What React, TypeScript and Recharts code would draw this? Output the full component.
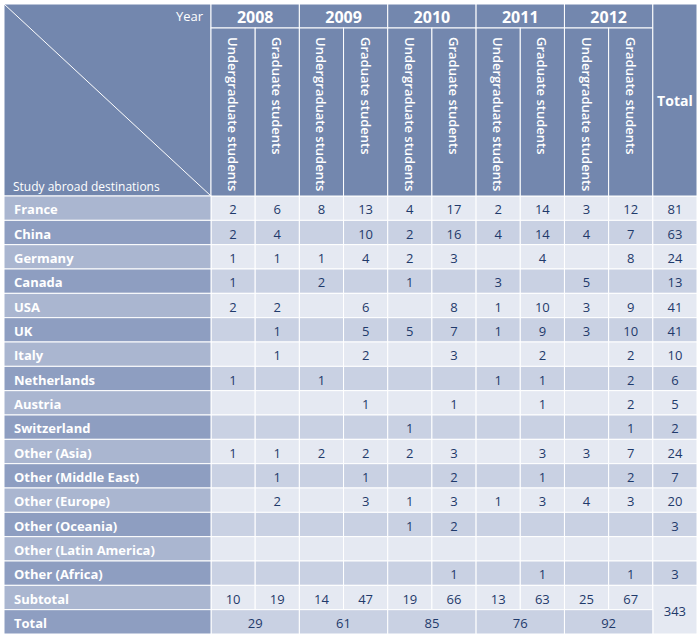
import React from "react"
import { ScatterChart, Scatter, XAxis, YAxis, Customized } from "recharts"

const destinations = [
  "France",
  "China",
  "Germany",
  "Canada",
  "USA",
  "UK",
  "Italy",
  "Netherlands",
  "Austria",
  "Switzerland",
  "Other (Asia)",
  "Other (Middle East)",
  "Other (Europe)",
  "Other (Oceania)",
  "Other (Latin America)",
  "Other (Africa)",
]
const summaryRows = ["Subtotal", "Total"]
const years = ["2008", "2009", "2010", "2011", "2012"]
const levels = ["Undergraduate students", "Graduate students"]

const n = null
// one value per destination, blank cells are null
const ug2008 = [2, 2, 1, 1, 2, n, n, 1, n, n, 1, n, n, n, n, n]
const grad2008 = [6, 4, 1, n, 2, 1, 1, n, n, n, 1, 1, 2, n, n, n]
const ug2009 = [8, n, 1, 2, n, n, n, 1, n, n, 2, n, n, n, n, n]
const grad2009 = [13, 10, 4, n, 6, 5, 2, n, 1, n, 2, 1, 3, n, n, n]
const ug2010 = [4, 2, 2, 1, n, 5, n, n, n, 1, 2, n, 1, 1, n, n]
const grad2010 = [17, 16, 3, n, 8, 7, 3, n, 1, n, 3, 2, 3, 2, n, 1]
const ug2011 = [2, 4, n, 3, 1, 1, n, 1, n, n, n, n, 1, n, n, n]
const grad2011 = [14, 14, 4, n, 10, 9, 2, 1, 1, n, 3, 1, 3, n, n, 1]
const ug2012 = [3, 4, n, 5, 3, 3, n, n, n, n, 3, n, 4, n, n, n]
const grad2012 = [12, 7, 8, n, 9, 10, 2, 2, 2, 1, 7, 2, 3, n, n, 1]
const destinationTotals = [81, 63, 24, 13, 41, 41, 10, 6, 5, 2, 24, 7, 20, 3, n, 3]

const subtotals = [10, 19, 14, 47, 19, 66, 13, 63, 25, 67]
const yearTotals = [29, 61, 85, 76, 92]
const grandTotal = 343

const yearColumns = [ug2008, grad2008, ug2009, grad2009, ug2010, grad2010, ug2011, grad2011, ug2012, grad2012]

// layout
const W = 700
const H = 640
const MARGIN = { top: 4, right: 3, bottom: 6, left: 4 }
const LABEL_W = 207
const HEAD_H = 192
const YEAR_H = 24
const NCOL = yearColumns.length + 1
const NROW = destinations.length + summaryRows.length
const CW = (W - MARGIN.left - MARGIN.right - LABEL_W) / NCOL
const RH = (H - MARGIN.top - MARGIN.bottom - HEAD_H) / NROW

const FONT = "'Open Sans', sans-serif"
const HEAD_BG = "#7387ae"
const LABEL_LIGHT = "#aab6d0"
const LABEL_DARK = "#8e9ec1"
const CELL_LIGHT = "#e5e9f2"
const CELL_DARK = "#c9d1e3"
const TEXT = "#1f3a6b"

type CellDatum = { x: number; y: number; value: number | null; cs: number; rs: number; row: number }

const cells: CellDatum[] = []
destinations.forEach((_, r) => {
  yearColumns.forEach((col, c) => {
    cells.push({ x: c + 0.5, y: r + 0.5, value: col[r], cs: 1, rs: 1, row: r })
  })
  cells.push({ x: NCOL - 0.5, y: r + 0.5, value: destinationTotals[r], cs: 1, rs: 1, row: r })
})
const subRow = destinations.length
subtotals.forEach((v, c) => {
  cells.push({ x: c + 0.5, y: subRow + 0.5, value: v, cs: 1, rs: 1, row: subRow })
})
cells.push({ x: NCOL - 0.5, y: subRow + 0.5, value: grandTotal, cs: 1, rs: 2, row: subRow })
yearTotals.forEach((v, i) => {
  cells.push({ x: i * 2 + 0.5, y: subRow + 1.5, value: v, cs: 2, rs: 1, row: subRow + 1 })
})

const xTicks = Array.from({ length: NCOL }, (_, i) => i + 0.5)
const yTicks = Array.from({ length: NROW }, (_, i) => i + 0.5)
const rowNames = [...destinations, ...summaryRows]

function TableCell(props: any) {
  const { cx, cy, payload } = props
  const x0 = cx - CW / 2
  const y0 = cy - RH / 2
  const w = CW * payload.cs
  const h = RH * payload.rs
  return (
    <g>
      <rect x={x0} y={y0} width={w} height={h} fill={payload.row % 2 === 0 ? CELL_LIGHT : CELL_DARK} stroke="#fff" strokeWidth={1} />
      {payload.value != null && (
        <text x={x0 + w / 2} y={y0 + h / 2 + 1} textAnchor="middle" dominantBaseline="central" fontFamily={FONT} fontSize={13} fill={TEXT}>
          {payload.value}
        </text>
      )}
    </g>
  )
}

function RowLabel(props: any) {
  const { x, y, payload } = props
  const r = Math.floor(payload.value)
  return (
    <g>
      <rect x={x - LABEL_W} y={y - RH / 2} width={LABEL_W} height={RH} fill={r % 2 === 0 ? LABEL_LIGHT : LABEL_DARK} stroke="#fff" strokeWidth={1} />
      <text x={x - LABEL_W + 10} y={y + 1} dominantBaseline="central" fontFamily={FONT} fontWeight={700} fontSize={13} fill="#fff">
        {rowNames[r]}
      </text>
    </g>
  )
}

function ColHeader(props: any) {
  const { x, y, payload } = props
  const c = Math.floor(payload.value)
  const top = y - HEAD_H
  if (c >= yearColumns.length) {
    return (
      <g>
        <rect x={x - CW / 2} y={top} width={CW} height={HEAD_H} fill={HEAD_BG} stroke="#fff" strokeWidth={1} />
        <text x={x} y={top + HEAD_H / 2} textAnchor="middle" dominantBaseline="central" fontFamily={FONT} fontWeight={700} fontSize={14} fill="#fff">
          Total
        </text>
      </g>
    )
  }
  const level = c % 2
  return (
    <g>
      {level === 0 && (
        <g>
          <rect x={x - CW / 2} y={top} width={CW * 2} height={YEAR_H} fill={HEAD_BG} stroke="#fff" strokeWidth={1} />
          <text x={x + CW / 2} y={top + YEAR_H / 2 + 1} textAnchor="middle" dominantBaseline="central" fontFamily={FONT} fontWeight={700} fontSize={16} fill="#fff">
            {years[c / 2]}
          </text>
        </g>
      )}
      <rect x={x - CW / 2} y={top + YEAR_H} width={CW} height={HEAD_H - YEAR_H} fill={HEAD_BG} stroke="#fff" strokeWidth={1} />
      <text
        transform={`translate(${x},${top + YEAR_H + 9}) rotate(90)`}
        dominantBaseline="central"
        fontFamily={FONT}
        fontWeight={600}
        fontSize={13}
        fill="#fff"
      >
        {levels[level]}
      </text>
    </g>
  )
}

function Corner() {
  const x0 = MARGIN.left
  const y0 = MARGIN.top
  const x1 = x0 + LABEL_W
  const y1 = y0 + HEAD_H
  return (
    <g>
      <rect x={x0} y={y0} width={LABEL_W} height={HEAD_H} fill={HEAD_BG} stroke="#fff" strokeWidth={1} />
      <line x1={x0} y1={y0} x2={x1} y2={y1} stroke="#fff" strokeWidth={1} />
      <text x={x1 - 8} y={y0 + 12} textAnchor="end" dominantBaseline="central" fontFamily={FONT} fontSize={13} fill="#fff">
        Year
      </text>
      <text x={x0 + 9} y={y1 - 10} dominantBaseline="central" fontFamily={FONT} fontSize={12} fill="#fff">
        Study abroad destinations
      </text>
    </g>
  )
}

export default function App() {
  return (
    <div style={{ position: "absolute", left: 0, top: 0, background: "#fff" }}>
      <ScatterChart width={W} height={H} margin={MARGIN}>
        <XAxis
          type="number"
          dataKey="x"
          orientation="top"
          domain={[0, NCOL]}
          ticks={xTicks}
          interval={0}
          height={HEAD_H}
          tickSize={0}
          tickMargin={0}
          tickLine={false}
          axisLine={false}
          allowDataOverflow
          tick={<ColHeader />}
        />
        <YAxis
          type="number"
          dataKey="y"
          reversed
          domain={[0, NROW]}
          ticks={yTicks}
          interval={0}
          width={LABEL_W}
          tickSize={0}
          tickMargin={0}
          tickLine={false}
          axisLine={false}
          allowDataOverflow
          tick={<RowLabel />}
        />
        <Scatter data={cells} isAnimationActive={false} shape={(p: any) => <TableCell {...p} />} />
        <Customized component={<Corner />} />
      </ScatterChart>
    </div>
  )
}
